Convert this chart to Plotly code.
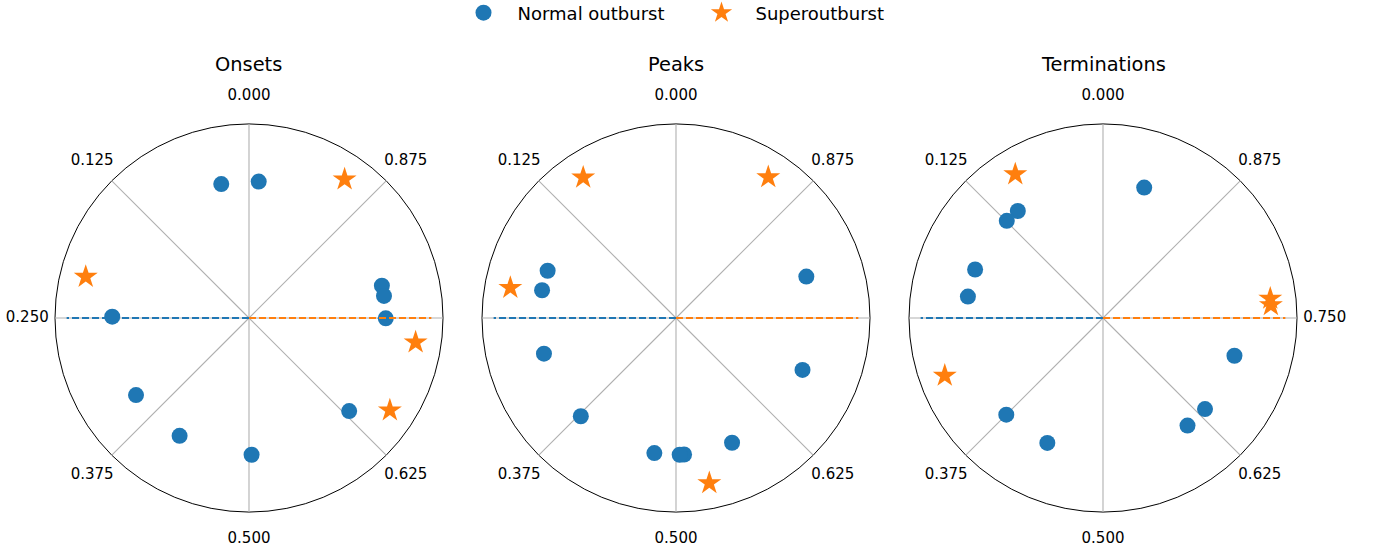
import plotly.graph_objects as go

# ---- data (phases in cycles, 0..1) ----
panels = ["Onsets", "Peaks", "Terminations"]

onset_normal = [0.0325, 0.9887, 0.788, 0.7758, 0.7496, 0.2484, 0.3453, 0.4153, 0.503, 0.6308]
onset_super = [0.9039, 0.2106, 0.7269, 0.6577]

peak_normal = [0.799, 0.688, 0.5672, 0.5094, 0.5043, 0.4747, 0.3775, 0.292, 0.2175, 0.1939]
peak_super = [0.0929, 0.9077, 0.2213, 0.5317]

term_normal = [0.9513, 0.107, 0.1242, 0.1923, 0.225, 0.375, 0.4333, 0.606, 0.634, 0.7055]
term_super = [0.0872, 0.7684, 0.7622, 0.3056]

r_normal = 0.705
r_super = 0.868

mean_phase_normal = [0.25, 0.25, 0.25]
mean_phase_super = [0.75, 0.75, 0.75]
mean_len = 0.94

tick_phases = [0.0, 0.125, 0.25, 0.375, 0.5, 0.625, 0.75, 0.875]
tick_labels = ["0.000", "0.125", "0.250", "0.375", "0.500", "0.625", "0.750", "0.875"]
hidden = [{"0.750"}, {"0.250", "0.750"}, {"0.250"}]
label_r = 1.143
r_max = 1.16

normals = [onset_normal, peak_normal, term_normal]
supers = [onset_super, peak_super, term_super]

BLUE = "#1f77b4"
ORANGE = "#ff7f0e"
FONT = "DejaVu Sans"

fig = go.Figure()

for i in range(3):
    pid = "polar" if i == 0 else f"polar{i+1}"
    # spokes (angular grid) from centre to the unit circle
    sr, st = [], []
    for p in tick_phases:
        sr += [0, 1, None]
        st += [0, p * 360, None]
    fig.add_trace(go.Scatterpolar(
        r=sr, theta=st, subplot=pid, mode="lines",
        line=dict(color="#b0b0b0", width=1.1), showlegend=False, hoverinfo="skip"))
    fig.add_trace(go.Scatterpolar(
        r=[r_normal] * len(normals[i]), theta=[p * 360 for p in normals[i]],
        subplot=pid, mode="markers", name="Normal outburst",
        marker=dict(color=BLUE, size=16, symbol="circle"),
        showlegend=(i == 0), legendgroup="n"))
    fig.add_trace(go.Scatterpolar(
        r=[r_super] * len(supers[i]), theta=[p * 360 for p in supers[i]],
        subplot=pid, mode="markers", name="Superoutburst",
        marker=dict(color=ORANGE, size=18, symbol="star"),
        showlegend=(i == 0), legendgroup="s"))
    fig.add_trace(go.Scatterpolar(
        r=[0, mean_len], theta=[0, mean_phase_normal[i] * 360], subplot=pid,
        mode="lines", line=dict(color=BLUE, width=1.8, dash="7px,3px"),
        showlegend=False, hoverinfo="skip"))
    fig.add_trace(go.Scatterpolar(
        r=[0, mean_len], theta=[0, mean_phase_super[i] * 360], subplot=pid,
        mode="lines", line=dict(color=ORANGE, width=1.8, dash="7px,3px"),
        showlegend=False, hoverinfo="skip"))
    # angular tick labels, centred on their positions
    lab_t = [p * 360 for p, t in zip(tick_phases, tick_labels) if t not in hidden[i]]
    lab_s = [t for t in tick_labels if t not in hidden[i]]
    fig.add_trace(go.Scatterpolar(
        r=[label_r] * len(lab_t), theta=lab_t, text=lab_s, subplot=pid,
        mode="text", textposition="middle center", cliponaxis=False,
        textfont=dict(size=15, family=FONT, color="black"),
        showlegend=False, hoverinfo="skip"))

W, H = 1375, 555
centers_x = [249, 676, 1103]
center_y = 318
rad_px = 194 * r_max

layout = dict(
    width=W, height=H,
    margin=dict(l=0, r=0, t=0, b=0, autoexpand=False),
    paper_bgcolor="white", plot_bgcolor="white",
    font=dict(family=FONT, color="black"),
    legend=dict(orientation="h", x=0.5, xanchor="center", y=1 - 13 / H, yanchor="middle",
                font=dict(size=18, family=FONT), bgcolor="rgba(0,0,0,0)",
                itemwidth=58, entrywidth=165),
    annotations=[],
)

for i in range(3):
    key = "polar" if i == 0 else f"polar{i+1}"
    cx = centers_x[i]
    layout[key] = dict(
        domain=dict(x=[(cx - rad_px) / W, (cx + rad_px) / W],
                    y=[(H - center_y - rad_px) / H, (H - center_y + rad_px) / H]),
        bgcolor="rgba(0,0,0,0)",
        radialaxis=dict(range=[0, r_max], visible=True, showline=False,
                        showticklabels=False, ticks="", tickmode="array", tickvals=[1],
                        showgrid=True, gridcolor="black", gridwidth=1.3),
        angularaxis=dict(rotation=90, direction="counterclockwise", thetaunit="degrees",
                         showticklabels=False, showgrid=False, showline=False, ticks=""),
    )
    layout["annotations"].append(dict(
        text=panels[i], x=cx / W, y=1 - 64 / H, xref="paper", yref="paper",
        xanchor="center", yanchor="middle", showarrow=False,
        font=dict(size=19.4, family=FONT, color="black")))

fig.update_layout(**layout)
fig.write_html("out.html", config={"displayModeBar": False},
               post_script="document.body.style.margin='0px';")
